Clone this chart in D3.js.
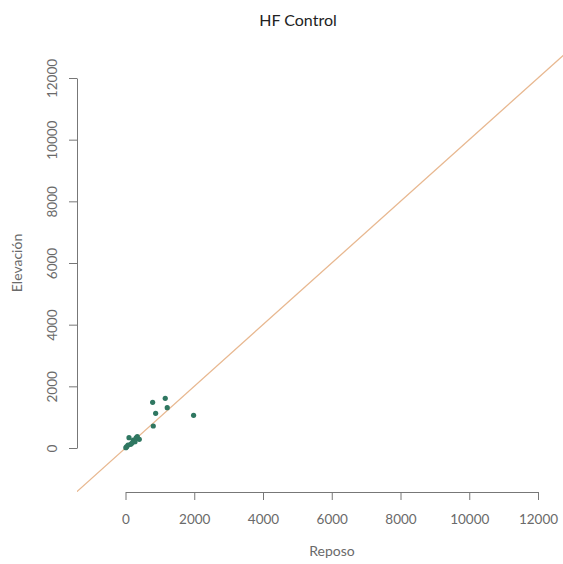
<!DOCTYPE html>
<html lang="es">
<head>
<meta charset="utf-8">
<title>HF Control</title>
<script src="https://d3js.org/d3.v7.min.js"></script>
<style>
  body { margin: 0; background: #fff; }
  text { font-family: Lato, "Liberation Sans", sans-serif; }
</style>
</head>
<body>
<div id="dataviz"></div>
<script>
// Reposo (x) vs Elevación (y)
var reposo    = [790, 1156, 877, 1214, 1981, 808, 102, 227, 343, 401, 276, 151, 35, 10, 73, 190, 310];
var elevacion = [1482, 1612, 1125, 1307, 1061, 714, 334, 259, 367, 282, 204, 120, 42, 10, 97, 160, 330];
var xTicks = [0, 2000, 4000, 6000, 8000, 10000, 12000];
var yTicks = [0, 2000, 4000, 6000, 8000, 10000, 12000];
var lineRange = [-1600, 14000];   // identity line y = x

var W = 563, H = 564;

var svg = d3.select("#dataviz")
  .append("svg")
  .attr("width", W)
  .attr("height", H);

var x = d3.scaleLinear().domain([0, 12000]).range([125.5, 538]);
var y = d3.scaleLinear().domain([0, 12000]).range([448, 78]);

// plot region (for clipping the abline)
svg.append("clipPath").attr("id", "plotclip")
  .append("rect")
  .attr("x", 77).attr("y", 40)
  .attr("width", W - 77).attr("height", 492 - 40);

// x axis
var gx = svg.append("g")
  .attr("transform", "translate(0,492)")
  .call(d3.axisBottom(x).tickValues(xTicks).tickFormat(d3.format("d"))
    .tickSizeInner(8).tickSizeOuter(0).tickPadding(14));
gx.select(".domain").attr("stroke", "#777");
gx.selectAll(".tick line").attr("stroke", "#777");
gx.selectAll("text").attr("fill", "#6a6a6a").style("font-size", "13.5px");

// y axis, labels parallel to the axis
var gy = svg.append("g")
  .attr("transform", "translate(77,0)")
  .call(d3.axisLeft(y).tickValues(yTicks).tickFormat(d3.format("d"))
    .tickSizeInner(8).tickSizeOuter(0));
gy.select(".domain").attr("stroke", "#777");
gy.selectAll(".tick line").attr("stroke", "#777");
gy.selectAll("text")
  .attr("transform", "rotate(-90)")
  .attr("text-anchor", "middle")
  .attr("x", 0)
  .attr("y", -25)
  .attr("dy", "0.35em")
  .attr("fill", "#6a6a6a")
  .style("font-size", "13.5px");

// identity line
svg.append("line")
  .attr("clip-path", "url(#plotclip)")
  .attr("x1", x(lineRange[0])).attr("y1", y(lineRange[0]))
  .attr("x2", x(lineRange[1])).attr("y2", y(lineRange[1]))
  .attr("stroke", "#e8b890")
  .attr("stroke-width", 1.3);

// points
svg.selectAll("myPoints")
  .data(reposo)
  .enter()
  .append("circle")
  .attr("cx", function (d) { return x(d); })
  .attr("cy", function (d, i) { return y(elevacion[i]); })
  .attr("r", 2.6)
  .attr("fill", "#2f7761");

// title and axis labels
svg.append("text").attr("x", 298).attr("y", 26)
  .attr("text-anchor", "middle")
  .style("font-size", "16px").attr("fill", "#222")
  .text("HF Control");

svg.append("text").attr("x", 332).attr("y", 556)
  .attr("text-anchor", "middle")
  .style("font-size", "14px").attr("fill", "#6a6a6a")
  .text("Reposo");

svg.append("text")
  .attr("transform", "translate(22,263) rotate(-90)")
  .attr("text-anchor", "middle")
  .style("font-size", "14px").attr("fill", "#6a6a6a")
  .text("Elevación");
</script>
</body>
</html>
